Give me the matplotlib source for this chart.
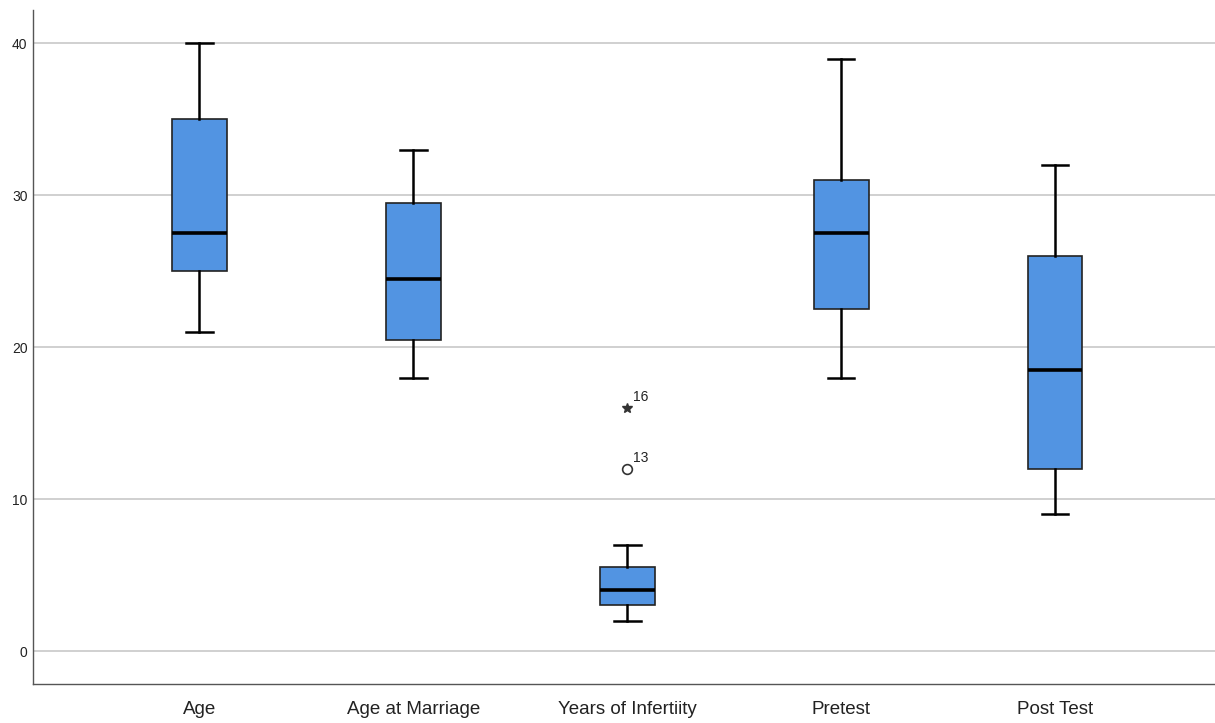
import matplotlib
matplotlib.use('Agg')
import matplotlib.pyplot as plt

plt.rcParams['font.family'] = ['Liberation Sans', 'DejaVu Sans']

# values
labels = ['Age', 'Age at Marriage', 'Years of Infertiity', 'Pretest', 'Post Test']
whislo = [21, 18, 2, 18, 9]
q1 = [25, 20.5, 3, 22.5, 12]
med = [27.5, 24.5, 4, 27.5, 18.5]
q3 = [35, 29.5, 5.5, 31, 26]
whishi = [40, 33, 7, 39, 32]
# outliers of Years of Infertiity: (value, case number, kind)
out_vals = [12, 16]
out_ids = ['13', '16']
out_kind = ['o', '*']

stats = []
for i in range(len(labels)):
    stats.append({'label': labels[i], 'whislo': whislo[i], 'q1': q1[i],
                  'med': med[i], 'q3': q3[i], 'whishi': whishi[i], 'fliers': []})

fig = plt.figure(figsize=(12.15, 7.23), dpi=100)
ax = fig.add_axes([33 / 1215, 1 - 684 / 723, 1 - 33 / 1215, (684 - 10) / 723])

pos = list(range(1, len(labels) + 1))
ax.bxp(stats, positions=pos, widths=0.257, patch_artist=True, showfliers=False,
       boxprops=dict(facecolor='#5294E2', edgecolor='#222222', linewidth=1.2),
       medianprops=dict(color='black', linewidth=2.6),
       whiskerprops=dict(color='black', linewidth=1.8),
       capprops=dict(color='black', linewidth=1.8), capwidths=0.125,
       zorder=3)

xi = labels.index('Years of Infertiity') + 1
for v, n, k in zip(out_vals, out_ids, out_kind):
    if k == 'o':
        ax.plot(xi, v, marker='o', ms=7, mfc='white', mec='#333333', mew=1.2, zorder=4)
    else:
        ax.plot(xi, v, marker='*', ms=7, color='#333333', zorder=4)
    ax.annotate(n, (xi, v), xytext=(4, 5), textcoords='offset points',
                fontsize=10, color='#222222')

ax.set_xlim(0.222, 5.748)
ax.set_ylim(-2.17, 42.2)
ax.set_yticks([0, 10, 20, 30, 40])
ax.yaxis.grid(True, color='#c8c8c8', linewidth=1.2, zorder=0)
ax.set_axisbelow(True)
ax.set_xticks(pos)
ax.set_xticklabels(labels, fontsize=13.5, color='#222222')
ax.tick_params(axis='y', labelsize=10, length=0, pad=4, colors='#222222')
ax.tick_params(axis='x', length=0, pad=12)
for s in ['top', 'right']:
    ax.spines[s].set_visible(False)
for s in ['left', 'bottom']:
    ax.spines[s].set_color('#555555')
    ax.spines[s].set_linewidth(1.0)

fig.savefig('out.png', dpi=100)
